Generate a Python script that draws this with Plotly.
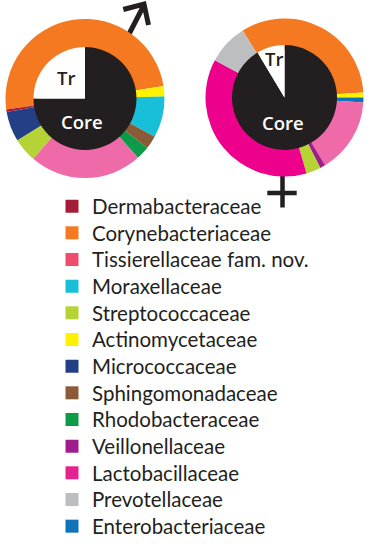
import plotly.graph_objects as go

W, H = 370, 544

# ---------------- data ----------------
families = ["Dermabacteraceae", "Corynebacteriaceae", "Tissierellaceae fam. nov.",
            "Moraxellaceae", "Streptococcaceae", "Actinomycetaceae", "Micrococcaceae",
            "Sphingomonadaceae", "Rhodobacteraceae", "Veillonellaceae",
            "Lactobacillaceae", "Prevotellaceae", "Enterobacteriaceae"]
legend_colors = ["#a51c36", "#f47920", "#ee4d6b", "#17bfd9", "#b5d334", "#fff200",
                 "#233f86", "#8b5a37", "#0e9b48", "#a01e8c", "#e5238f", "#bcbec0", "#1072ba"]

# male outer ring (clockwise order)
male_labels = ["Corynebacteriaceae", "Actinomycetaceae", "Moraxellaceae",
               "Sphingomonadaceae", "Rhodobacteraceae", "Tissierellaceae fam. nov.",
               "Streptococcaceae", "Micrococcaceae", "Dermabacteraceae"]
male_values = [49.7, 2.1, 8.4, 2.7, 2.7, 22.9, 4.9, 6.1, 0.5]

# female outer ring (clockwise order)
female_labels = ["Corynebacteriaceae", "Actinomycetaceae", "Enterobacteriaceae",
                 "Tissierellaceae fam. nov.", "Veillonellaceae", "Streptococcaceae",
                 "Lactobacillaceae", "Prevotellaceae"]
female_values = [32.9, 1.0, 1.0, 15.4, 1.1, 3.0, 37.3, 8.3]

# inner pies: core vs transient
inner_labels = ["Core", "Tr"]
male_inner = [75.0, 25.0]
female_inner = [91.4, 8.6]

ring_colors = {"Dermabacteraceae": "#a51c36", "Corynebacteriaceae": "#f47920",
               "Tissierellaceae fam. nov.": "#ef6aa8", "Moraxellaceae": "#17bfd9",
               "Streptococcaceae": "#b5d334", "Actinomycetaceae": "#fff200",
               "Micrococcaceae": "#233f86", "Sphingomonadaceae": "#8b5a37",
               "Rhodobacteraceae": "#0e9b48", "Veillonellaceae": "#a01e8c",
               "Lactobacillaceae": "#ec008c", "Prevotellaceae": "#bcbec0",
               "Enterobacteriaceae": "#1072ba"}
DARK = "#231f20"


def dom(cx, cy, r):
    return dict(x=[(cx - r) / W, (cx + r) / W], y=[1 - (cy + r) / H, 1 - (cy - r) / H])


def X(x):
    return x / W


def Y(y):
    return 1 - y / H


fig = go.Figure()

# outer rings
fig.add_trace(go.Pie(labels=male_labels, values=male_values, sort=False,
                     direction="clockwise", rotation=262.1, hole=0.6,
                     marker=dict(colors=[ring_colors[l] for l in male_labels], line=dict(width=0)),
                     textinfo="none", hoverinfo="label+percent", showlegend=False,
                     domain=dom(85, 98.5, 79.5)))
fig.add_trace(go.Pie(labels=female_labels, values=female_values, sort=False,
                     direction="clockwise", rotation=328, hole=0.6,
                     marker=dict(colors=[ring_colors[l] for l in female_labels], line=dict(width=0)),
                     textinfo="none", hoverinfo="label+percent", showlegend=False,
                     domain=dom(284.5, 97.5, 79)))
# inner pies
fig.add_trace(go.Pie(labels=inner_labels, values=male_inner, sort=False,
                     direction="clockwise", rotation=0,
                     marker=dict(colors=[DARK, "#ffffff"], line=dict(width=0)),
                     textinfo="none", hoverinfo="label+percent", showlegend=False,
                     domain=dom(85, 98.5, 51.5)))
fig.add_trace(go.Pie(labels=inner_labels, values=female_inner, sort=False,
                     direction="clockwise", rotation=0,
                     marker=dict(colors=[DARK, "#ffffff"], line=dict(width=0)),
                     textinfo="none", hoverinfo="label+percent", showlegend=False,
                     domain=dom(284.5, 97.5, 52.5)))

# legend entries: one small legend per row so the row pitch can match the original
LEG_FONT = 20.5
ROW0, PITCH = 206.8, 26.67
legend_layouts = {}
for i, (name, col) in enumerate(zip(families, legend_colors)):
    lname = "legend" if i == 0 else f"legend{i + 1}"
    fig.add_trace(go.Scatter(x=[None], y=[None], mode="markers", name=name,
                             marker=dict(symbol="square", size=13, color=col,
                                         line=dict(width=0)),
                             showlegend=True, legend=lname))
    centre = ROW0 + PITCH * i
    legend_layouts[lname] = dict(
        x=X(52), y=Y(centre - 20.5), xanchor="left", yanchor="top",
        bgcolor="rgba(0,0,0,0)", borderwidth=0,
        font=dict(family="Lato", size=LEG_FONT, color=DARK))

# text labels on inner pies
lab_font = dict(family="Open Sans", size=18.5, weight=600)
for (tx, ty, txt, col) in [(66, 78, "Tr", DARK), (82, 122, "Core", "#ffffff"),
                           (274, 59, "Tr", DARK), (282.5, 123, "Core", "#ffffff")]:
    fig.add_annotation(x=X(tx), y=Y(ty), xref="paper", yref="paper", text=txt,
                       showarrow=False, font=dict(color=col, **lab_font),
                       xanchor="center", yanchor="middle")

# sex symbols
male_path = (f"M {X(128)} {Y(36)} L {X(144)} {Y(5)} "
             f"M {X(123.3)} {Y(9.5)} L {X(144)} {Y(4)} L {X(148.5)} {Y(25)}")
fig.add_shape(type="path", path=male_path, xref="paper", yref="paper",
              line=dict(color=DARK, width=5), layer="below")
fem_path = (f"M {X(282.5)} {Y(172)} L {X(282.5)} {Y(207.5)} "
            f"M {X(267.3)} {Y(193)} L {X(296.7)} {Y(193)}")
fig.add_shape(type="path", path=fem_path, xref="paper", yref="paper",
              line=dict(color=DARK, width=4.5), layer="below")

fig.update_layout(
    width=W, height=H,
    margin=dict(l=0, r=0, t=0, b=0, autoexpand=False),
    paper_bgcolor="white", plot_bgcolor="rgba(0,0,0,0)",
    xaxis=dict(visible=False), yaxis=dict(visible=False),
    showlegend=True,
    **legend_layouts,
)

fig.write_html("out.html", config={"displayModeBar": False},
               post_script="document.body.style.margin='0px';")
